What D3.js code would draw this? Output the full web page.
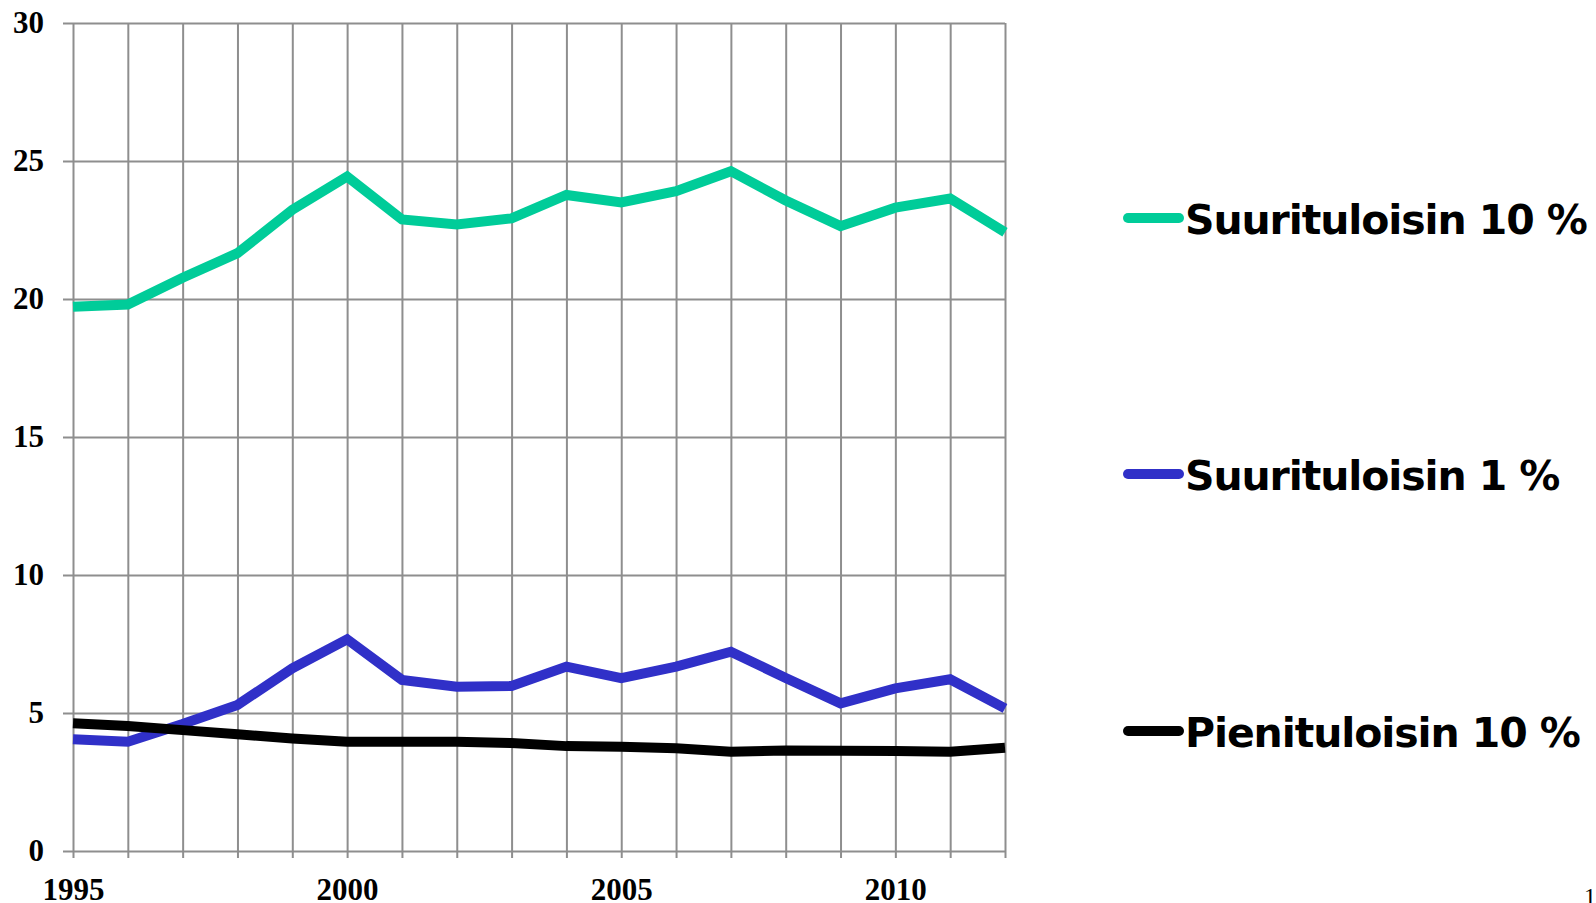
<!DOCTYPE html>
<html>
<head>
<meta charset="utf-8">
<script src="https://cdn.jsdelivr.net/npm/d3@7"></script>
<style>
  body { margin: 0; background: #fff; }
  svg { display: block; }
</style>
</head>
<body>
<div id="holder"></div>
<script>
const w = 1596;
const h = 903;

// data
const years = [1995, 1996, 1997, 1998, 1999, 2000, 2001, 2002, 2003, 2004, 2005, 2006, 2007, 2008, 2009, 2010, 2011, 2012];
const top10 = [19.72, 19.80, 20.77, 21.66, 23.23, 24.44, 22.88, 22.70, 22.92, 23.77, 23.50, 23.91, 24.63, 23.57, 22.64, 23.31, 23.64, 22.42];
const top1 = [4.05, 3.96, 4.60, 5.29, 6.62, 7.67, 6.20, 5.95, 5.98, 6.68, 6.26, 6.68, 7.22, 6.27, 5.35, 5.89, 6.22, 5.17];
const bottom10 = [4.63, 4.53, 4.38, 4.23, 4.08, 3.96, 3.96, 3.96, 3.91, 3.80, 3.78, 3.72, 3.60, 3.64, 3.63, 3.62, 3.60, 3.74];
const seriesNames = ["Suurituloisin 10 %", "Suurituloisin 1 %", "Pienituloisin 10 %"];
const yTicks = [0, 5, 10, 15, 20, 25, 30];
const xLabels = [1995, 2000, 2005, 2010];

const colors = ["#00cc99", "#3030c8", "#000000"];

const plotLeft = 73, plotRight = 1005, plotTop = 23, plotBottom = 851;

const svg = d3.select("#holder")
    .append("svg")
    .attr("width", w)
    .attr("height", h)

const x = d3.scaleLinear()
    .domain([years[0], years[years.length - 1]])
    .range([plotLeft, plotRight])

const y = d3.scaleLinear()
    .domain([0, 30])
    .range([plotBottom, plotTop])

// horizontal grid + y ticks (axis sits on the right edge, ticks reach back past the left edge)
const yAxis = d3.axisLeft(y)
    .tickValues(yTicks)
    .tickSize(plotRight - plotLeft + 10)
    .tickPadding(19)

svg.append("g")
    .attr("transform", `translate(${plotRight},0)`)
    .call(yAxis)
    .call(g => g.select(".domain").remove())
    .call(g => g.selectAll("line").attr("stroke", "#8e8e8e").attr("stroke-width", 2))
    .call(g => g.selectAll("text")
        .attr("font-family", "'Liberation Serif', 'Times New Roman', serif")
        .attr("font-weight", "bold")
        .attr("font-size", 31)
        .attr("fill", "#000"))

// vertical grid + x ticks
const xAxis = d3.axisBottom(x)
    .tickValues(years)
    .tickSize(plotBottom - plotTop + 7)
    .tickPadding(20)
    .tickFormat(d => xLabels.includes(d) ? d : "")

svg.append("g")
    .attr("transform", `translate(0,${plotTop})`)
    .call(xAxis)
    .call(g => g.select(".domain").remove())
    .call(g => g.selectAll("line").attr("stroke", "#8e8e8e").attr("stroke-width", 2))
    .call(g => g.selectAll("text")
        .attr("font-family", "'Liberation Serif', 'Times New Roman', serif")
        .attr("font-weight", "bold")
        .attr("font-size", 31)
        .attr("fill", "#000"))

// lines
const allSeries = [top10, top1, bottom10];

const line = d3.line()
    .x((d, i) => x(years[i]))
    .y(d => y(d))

svg.selectAll("path.series")
    .data(allSeries)
    .join("path")
    .attr("class", "series")
    .attr("d", d => line(d))
    .attr("fill", "none")
    .attr("stroke", (d, i) => colors[i])
    .attr("stroke-width", 10)
    .attr("stroke-linejoin", "miter")

// legend
const legendY = [218, 474, 731];

const legend = svg.selectAll("g.legend")
    .data(seriesNames)
    .join("g")
    .attr("class", "legend")
    .attr("transform", (d, i) => `translate(0,${legendY[i]})`)

legend.append("line")
    .attr("x1", 1128)
    .attr("x2", 1179)
    .attr("y1", 0)
    .attr("y2", 0)
    .attr("stroke", (d, i) => colors[i])
    .attr("stroke-width", 10)
    .attr("stroke-linecap", "round")

legend.append("text")
    .attr("x", 1185)
    .attr("y", 16)
    .attr("font-family", "'DejaVu Sans', Verdana, sans-serif")
    .attr("font-weight", "bold")
    .attr("font-size", 41)
    .attr("letter-spacing", -1.1)
    .attr("fill", "#000")
    .text(d => d)

// page number
svg.append("text")
    .attr("x", 1584)
    .attr("y", 904)
    .attr("font-family", "'Liberation Serif', serif")
    .attr("font-size", 24)
    .attr("fill", "#000")
    .text("1")
</script>
</body>
</html>
